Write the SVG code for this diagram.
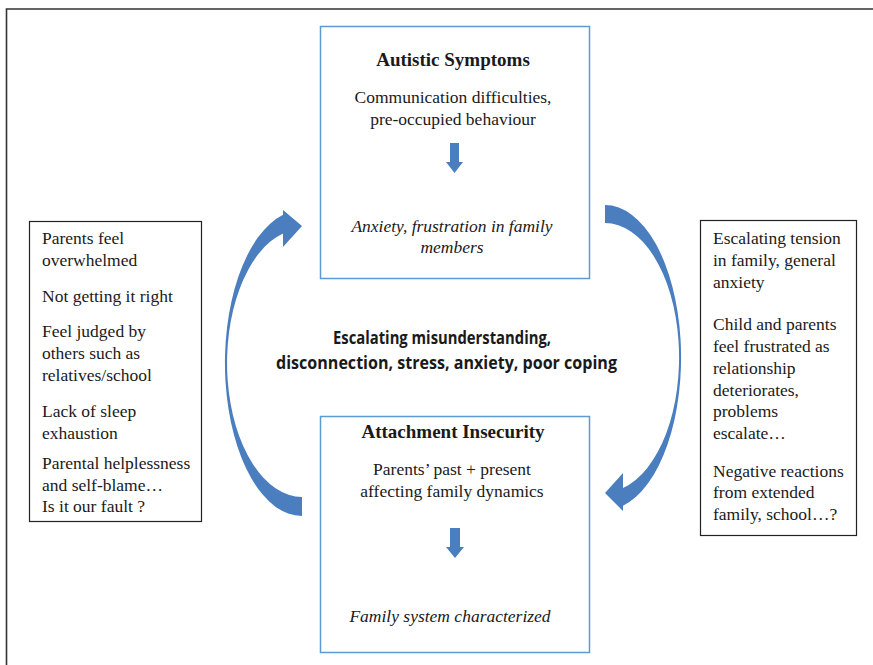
<svg xmlns="http://www.w3.org/2000/svg" width="873" height="665" viewBox="0 0 873 665">
<style>
.serif{font-family:"Liberation Serif","Times New Roman",serif;font-size:17.5px;fill:#1a1a1a}
.title{font-family:"Liberation Serif","Times New Roman",serif;font-size:19px;font-weight:bold;fill:#1a1a1a}
.it{font-style:italic}
.mid{text-anchor:middle}
.sans{font-family:"Open Sans","Liberation Sans",sans-serif;font-size:17px;font-weight:bold;fill:#1a1a1a;text-anchor:middle}
.bluebox{fill:#fff;stroke:#5b9bd5;stroke-width:1.5}
.blackbox{fill:#fff;stroke:#222;stroke-width:1.2}
.arrow{fill:#4a7ebf}
</style>
<rect width="873" height="665" fill="#fff"/>
<path d="M6.5 665 V9 H873" fill="none" stroke="#333" stroke-width="1.6"/>

<g id="connectors">
<path class="arrow" d="M302 516 A77 153 0 0 1 283 214.7 L283 210 L302 226 L283 247 L283 233.4 A75 134 0 0 0 302 497 Z"/>
<path class="arrow" d="M605 205 A76 152.5 0 0 1 623 505.7 L623 511 L605 493 L623 473 L623 488 A74 134.5 0 0 0 605 223 Z"/>
</g>

<g id="autistic-symptoms">
<rect class="bluebox" x="320.5" y="26.5" width="269" height="252"/>
<text class="title mid" x="453" y="66">Autistic Symptoms</text>
<text class="serif mid" x="453" y="103">Communication difficulties,</text>
<text class="serif mid" x="453" y="125">pre-occupied behaviour</text>
<path class="arrow" d="M450 143 H459 V162 H463 L454.5 173 L446 162 H450 Z"/>
<text class="serif it mid" x="452" y="232">Anxiety, frustration in family</text>
<text class="serif it mid" x="452" y="253">members</text>
</g>

<g id="attachment-insecurity">
<rect class="bluebox" x="320.5" y="416.5" width="269" height="236"/>
<text class="title mid" x="453" y="438">Attachment Insecurity</text>
<text class="serif mid" x="452" y="475">Parents’ past + present</text>
<text class="serif mid" x="452" y="497">affecting family dynamics</text>
<path class="arrow" d="M450 528 H460 V547 H464 L455 558 L446 547 H450 Z"/>
<text class="serif it mid" x="450" y="622">Family system characterized</text>
</g>

<g id="parents-box">
<rect class="blackbox" x="29.5" y="221.5" width="172" height="300"/>
<text class="serif" x="42" y="244">Parents feel</text>
<text class="serif" x="42" y="266">overwhelmed</text>
<text class="serif" x="42" y="302">Not getting it right</text>
<text class="serif" x="42" y="337">Feel judged by</text>
<text class="serif" x="42" y="359">others such as</text>
<text class="serif" x="42" y="381">relatives/school</text>
<text class="serif" x="42" y="417">Lack of sleep</text>
<text class="serif" x="42" y="439">exhaustion</text>
<text class="serif" x="42" y="469">Parental helplessness</text>
<text class="serif" x="42" y="491">and self-blame…</text>
<text class="serif" x="42" y="512">Is it our fault ?</text>
</g>

<g id="family-box">
<rect class="blackbox" x="700.5" y="220.5" width="156" height="315"/>
<text class="serif" x="713" y="244">Escalating tension</text>
<text class="serif" x="713" y="266">in family, general</text>
<text class="serif" x="713" y="288">anxiety</text>
<text class="serif" x="713" y="330">Child and parents</text>
<text class="serif" x="713" y="352">feel frustrated as</text>
<text class="serif" x="713" y="374">relationship</text>
<text class="serif" x="713" y="396">deteriorates,</text>
<text class="serif" x="713" y="417">problems</text>
<text class="serif" x="713" y="439">escalate…</text>
<text class="serif" x="713" y="477">Negative reactions</text>
<text class="serif" x="713" y="498">from extended</text>
<text class="serif" x="713" y="520">family, school…?</text>
</g>

<g id="center-label">
<text class="sans" x="442" y="344" textLength="218" lengthAdjust="spacingAndGlyphs">Escalating misunderstanding,</text>
<text class="sans" x="446.5" y="369" textLength="341" lengthAdjust="spacingAndGlyphs">disconnection, stress, anxiety, poor coping</text>
</g>
</svg>
